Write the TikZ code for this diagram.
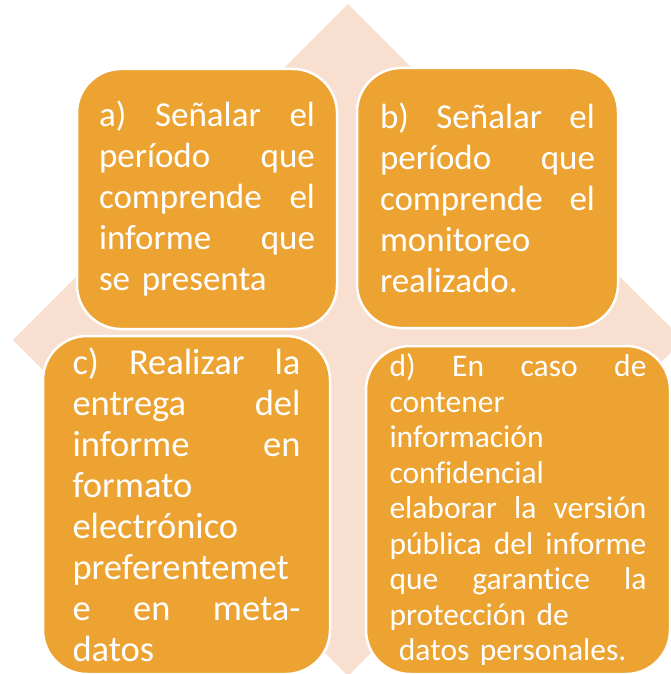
\documentclass[tikz,border=0pt]{standalone}
\usepackage{fontspec}
\setmainfont{Carlito}[Ligatures={NoCommon,NoContextual}]
\definecolor{naranja}{RGB}{237,163,50}
\definecolor{durazno}{RGB}{248,223,207}
\tikzset{
  caja/.style={draw=white, line width=2.5pt, fill=naranja, rounded corners=44pt,
    text=white, align=left, inner ysep=0pt},
}
\begin{document}
\begin{tikzpicture}[x=1pt, y=-1pt]
            \useasboundingbox (0,0) rectangle (671,674);
            \clip (0,0) rectangle (671,674);

            % rombo de fondo
            \fill[durazno] (348,4) -- (683,340) -- (348,676) -- (13,340) -- cycle;

            % cajas superiores
            \node[caja, minimum width=260pt, minimum height=260pt, text width=216pt,
                  font=\fontsize{35}{41}\selectfont] (a) at (207,199)
                {a)\hfill Señalar\hfill el\\ período\hfill que\\ comprende\hfill el\\
                 informe\hfill que\\ se presenta};
            \node[caja, minimum width=261pt, minimum height=260pt, text width=215pt,
                  font=\fontsize{35}{41}\selectfont] (b) at (487.5,198)
                {b)\hfill Señalar\hfill el\\ período\hfill que\\ comprende\hfill el\\
                 monitoreo\\ realizado.};

            % cajas inferiores
            \node[caja, minimum width=287pt, minimum height=338pt, text width=228pt,
                  font=\fontsize{36.5}{41}\selectfont] (c) at (186.5,505)
                {c)\hfill Realizar\hfill la\\ entrega\hfill del\\ informe\hfill en\\
                 formato\\ electrónico\\ preferentemet\\ e\hfill en\hfill meta-\\ datos};
            \node[caja, minimum width=304pt, minimum height=328pt, text width=257pt,
                  font=\fontsize{31.5}{35.5}\selectfont] (d) at (518,510)
                {d)\hfill En\hfill caso\hfill de\\ contener\\ información\\ confidencial\\
                 elaborar\hfill la\hfill versión\\ pública\hfill del\hfill informe\\
                 que\hfill garantice\hfill la\\ protección de\\
                 \hspace*{0.3em}datos personales.};

\end{tikzpicture}
\end{document}
